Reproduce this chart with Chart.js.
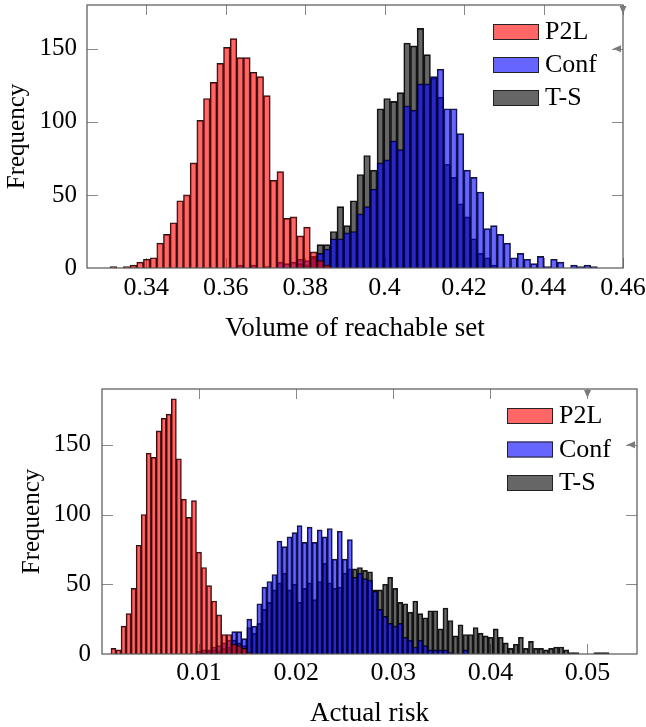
<!DOCTYPE html>
<html lang="en">
<head>
<meta charset="UTF-8">
<title>Volume and risk histograms</title>
<script src="https://cdn.jsdelivr.net/npm/chart.js@4.4.1/dist/chart.umd.min.js"></script>
<style>
    body {
        margin: 0;
        background: #ffffff;
        width: 646px;
        height: 727px;
        overflow: hidden;
        position: relative;
    }
    .box {
        position: absolute;
        left: 0;
        width: 646px;
    }
    #topBox { top: 0; height: 345px; }
    #bottomBox { top: 345px; height: 382px; }
</style>
</head>
<body>
<div class="box" id="topBox"><canvas id="volChart" width="646" height="345"></canvas></div>
<div class="box" id="bottomBox"><canvas id="riskChart" width="646" height="382"></canvas></div>

<script>
    const seriesNames = ['P2L', 'Conf', 'T-S'];

    // top histogram: volume of reachable set (bin start, bin width, counts per bin)
    const volBinStart = 0.3309;
    const volBinWidth = 0.00168;
    const volP2L = [1, 0, 1, 2, 4, 6, 7, 17, 23, 31, 46, 50, 72, 101, 116, 127, 140, 151, 157, 144,
        144, 134, 131, 118, 60, 66, 34, 35, 22, 28, 11, 5, 2, 0, 0, 0, 0, 0, 0, 0,
        0, 0, 0, 0, 0, 0, 0, 0, 0, 0, 0, 0, 0, 0, 0, 0, 0, 0, 0, 0,
        0, 0, 0, 0, 0, 0, 0, 0, 0, 0, 0, 0, 0];
    const volConf = [0, 0, 0, 0, 0, 0, 0, 0, 0, 0, 0, 0, 0, 0, 0, 0, 0, 0, 0, 2,
        0, 2, 0, 1, 0, 4, 3, 4, 6, 5, 7, 10, 13, 20, 20, 24, 25, 37, 42, 54,
        72, 74, 87, 81, 111, 108, 126, 126, 131, 136, 109, 109, 92, 67, 62, 52, 27, 29, 23, 17,
        7, 10, 6, 3, 8, 1, 6, 4, 0, 2, 1, 2, 1];
    const volTS = [0, 0, 0, 0, 0, 0, 0, 0, 0, 0, 0, 0, 0, 0, 0, 0, 0, 0, 0, 0,
        0, 0, 0, 0, 0, 0, 0, 0, 3, 2, 8, 16, 16, 25, 42, 29, 46, 64, 77, 67,
        109, 116, 114, 120, 154, 152, 164, 146, 130, 117, 71, 62, 44, 35, 20, 10, 7, 2, 0, 0,
        0, 0, 0, 0, 0, 0, 0, 0, 0, 0, 0, 0, 0];
    const volXTicks = [0.34, 0.36, 0.38, 0.4, 0.42, 0.44, 0.46];

    // bottom histogram: actual risk
    const riskBinStart = 0.000925;
    const riskBinWidth = 0.000518;
    const riskP2L = [4, 3, 20, 29, 47, 78, 100, 144, 141, 160, 169, 172, 183, 140, 111, 98, 110, 73, 62, 49,
        38, 28, 14, 14, 7, 6, 4, 1, 0, 0, 0, 0, 0, 0, 0, 0, 0, 0, 0, 0,
        0, 0, 0, 0, 0, 0, 0, 0, 0, 0, 0, 0, 0, 0, 0, 0, 0, 0, 0, 0,
        0, 0, 0, 0, 0, 0, 0, 0, 0, 0, 0, 0, 0, 0, 0, 0, 0, 0, 0, 0,
        0, 0, 0, 0, 0, 0, 0, 0, 0, 0, 0, 0, 0, 0, 0, 0, 0, 0, 0];
    const riskConf = [0, 0, 0, 0, 0, 0, 0, 0, 0, 0, 0, 0, 0, 0, 0, 0, 0, 2, 3, 3,
        5, 6, 8, 10, 16, 16, 11, 25, 20, 36, 48, 52, 57, 81, 77, 84, 87, 92, 80, 91,
        80, 89, 84, 90, 68, 88, 68, 82, 55, 58, 54, 53, 45, 32, 27, 22, 20, 22, 12, 10,
        5, 10, 6, 3, 3, 3, 3, 1, 0, 0, 3, 0, 0, 0, 0, 0, 0, 0, 0, 0,
        0, 0, 0, 0, 0, 0, 0, 0, 0, 0, 0, 0, 0, 0, 0, 0, 0, 0, 0];
    const riskTS = [0, 0, 0, 0, 0, 0, 0, 0, 0, 0, 0, 0, 0, 0, 0, 0, 0, 0, 1, 2,
        3, 2, 4, 5, 10, 8, 6, 19, 15, 22, 32, 37, 46, 51, 58, 46, 50, 37, 47, 51,
        39, 52, 65, 51, 47, 48, 58, 61, 61, 62, 60, 59, 46, 46, 50, 55, 47, 37, 36, 30,
        38, 29, 26, 31, 31, 18, 33, 24, 13, 21, 14, 14, 19, 15, 13, 12, 18, 12, 8, 4,
        7, 12, 4, 9, 4, 4, 3, 4, 5, 5, 3, 1, 1, 0, 0, 0, 1, 1, 1];
    const riskXTicks = [0.01, 0.02, 0.03, 0.04, 0.05];

    const yTicks = [0, 50, 100, 150];

    const fills = ['rgba(255, 0, 0, 0.6)', 'rgba(0, 0, 255, 0.6)', 'rgba(0, 0, 0, 0.6)'];
    const serif = '"Liberation Serif", "Times New Roman", serif';
    Chart.defaults.font.family = serif;
    Chart.defaults.color = '#000000';

    function binPoints(start, width, counts) {
        return counts.map((c, i) => ({ x: start + (i + 0.5) * width, y: c }));
    }

    // pgfplots style inner ticks + frame
    const frameAndTicks = {
        id: 'frameAndTicks',
        beforeDatasetsDraw(chart) {
            const { ctx, chartArea: a, scales } = chart;
            ctx.save();
            ctx.strokeStyle = '#8a8a8a';
            ctx.lineWidth = 1;
            ctx.beginPath();
            scales.x.ticks.forEach(t => {
                const px = Math.round(scales.x.getPixelForValue(t.value)) + 0.5;
                ctx.moveTo(px, a.top);
                ctx.lineTo(px, a.top + 10);
                ctx.moveTo(px, a.bottom);
                ctx.lineTo(px, a.bottom - 10);
            });
            scales.y.ticks.forEach(t => {
                if (t.value === 0) return;
                const py = Math.round(scales.y.getPixelForValue(t.value)) + 0.5;
                ctx.moveTo(a.left, py);
                ctx.lineTo(a.left + 11, py);
                ctx.moveTo(a.right, py);
                ctx.lineTo(a.right - 11, py);
            });
            ctx.stroke();
            ctx.restore();
        },
        afterDatasetsDraw(chart) {
            const { ctx, chartArea: a, scales } = chart;
            ctx.save();
            ctx.strokeStyle = '#555555';
            ctx.lineWidth = 1.2;
            ctx.strokeRect(a.left, a.top, a.right - a.left, a.bottom - a.top);

            // little arrow heads on the last top tick and last right tick
            const xs = scales.x.ticks, ys = scales.y.ticks;
            const px = scales.x.getPixelForValue(xs[xs.length - 1].value);
            const py = scales.y.getPixelForValue(ys[ys.length - 1].value);
            ctx.fillStyle = '#7a7a7a';
            ctx.beginPath();
            ctx.moveTo(px - 3.5, a.top + 1);
            ctx.lineTo(px + 3.5, a.top + 1);
            ctx.lineTo(px, a.top + 9);
            ctx.closePath();
            ctx.fill();
            ctx.beginPath();
            ctx.moveTo(a.right - 10, py);
            ctx.lineTo(a.right - 2, py - 3.5);
            ctx.lineTo(a.right - 2, py + 3.5);
            ctx.closePath();
            ctx.fill();
            ctx.restore();
        }
    };

    // legend drawn inside the plot, top right
    const boxLegend = {
        id: 'boxLegend',
        afterDraw(chart, args, opts) {
            const { ctx, chartArea: a } = chart;
            ctx.save();
            chart.data.datasets.forEach((ds, k) => {
                const x = a.right - opts.right;
                const y = a.top + opts.top + k * opts.gap;
                ctx.fillStyle = ds.backgroundColor;
                ctx.fillRect(x, y, 46, 16);
                ctx.strokeStyle = '#222222';
                ctx.lineWidth = 1;
                ctx.strokeRect(x + 0.5, y + 0.5, 45, 15);
                ctx.fillStyle = '#000000';
                ctx.font = '26px ' + serif;
                ctx.textBaseline = 'middle';
                ctx.fillText(ds.label, x + 52, y + 8.5);
            });
            ctx.restore();
        }
    };

    function makeHistogram(id, s) {
        const datasets = s.series.map((counts, k) => ({
            label: seriesNames[k],
            data: binPoints(s.binStart, s.binWidth, counts),
            backgroundColor: fills[k],
            borderColor: 'rgba(0, 0, 0, 0.9)',
            borderWidth: 1,
            barPercentage: 1,
            categoryPercentage: 1,
            grouped: false
        }));

        return new Chart(document.getElementById(id), {
            type: 'bar',
            data: { datasets: datasets },
            options: {
                responsive: false,
                animation: false,
                events: [],
                layout: { padding: s.padding },
                plugins: {
                    legend: { display: false },
                    tooltip: { enabled: false },
                    boxLegend: s.legend
                },
                scales: {
                    x: {
                        type: 'linear',
                        min: s.xMin,
                        max: s.xMax,
                        offset: false,
                        grid: { display: false, drawTicks: false, offset: false },
                        border: { display: false },
                        afterBuildTicks: scale => { scale.ticks = s.xTicks.map(v => ({ value: v })); },
                        afterFit: scale => {
                            scale.height = s.xHeight;
                            scale.paddingLeft = 0;
                            scale.paddingRight = 0;
                        },
                        ticks: {
                            padding: s.xTickPad,
                            autoSkip: false,
                            maxRotation: 0,
                            font: { size: 26 },
                            color: '#000000',
                            callback: v => String(v)
                        },
                        title: {
                            display: true,
                            text: s.xTitle,
                            font: { size: 27 },
                            color: '#000000',
                            padding: { top: 0, bottom: s.xTitlePad }
                        }
                    },
                    y: {
                        type: 'linear',
                        min: 0,
                        max: s.yMax,
                        grid: { display: false, drawTicks: false },
                        border: { display: false },
                        afterBuildTicks: scale => { scale.ticks = yTicks.map(v => ({ value: v })); },
                        afterFit: scale => {
                            scale.width = s.yWidth;
                            scale.paddingTop = 0;
                            scale.paddingBottom = 0;
                        },
                        ticks: {
                            padding: s.yTickPad,
                            font: { size: 25 },
                            color: '#000000',
                            callback: v => String(v)
                        },
                        title: {
                            display: true,
                            text: 'Frequency',
                            font: { size: 25 },
                            color: '#000000',
                            padding: { top: s.yTitlePad, bottom: 0 }
                        }
                    }
                }
            },
            plugins: [frameAndTicks, boxLegend]
        });
    }

    makeHistogram('volChart', {
        series: [volP2L, volConf, volTS],
        binStart: volBinStart,
        binWidth: volBinWidth,
        xMin: 0.3251,
        xMax: 0.46,
        yMax: 180,
        xTicks: volXTicks,
        xTitle: 'Volume of reachable set',
        padding: { top: 5, right: 23, left: 0, bottom: 0 },
        xHeight: 77,
        yWidth: 87,
        xTickPad: 5,
        yTickPad: 10,
        xTitlePad: 0,
        yTitlePad: 2,
        legend: { right: 130, top: 19, gap: 33 }
    });

    makeHistogram('riskChart', {
        series: [riskP2L, riskConf, riskTS],
        binStart: riskBinStart,
        binWidth: riskBinWidth,
        xMin: 0,
        xMax: 0.0551,
        yMax: 190,
        xTicks: riskXTicks,
        xTitle: 'Actual risk',
        padding: { top: 44, right: 9, left: 0, bottom: 0 },
        xHeight: 73,
        yWidth: 102,
        xTickPad: 4,
        yTickPad: 11,
        xTitlePad: -3,
        yTitlePad: 17,
        legend: { right: 130, top: 19, gap: 33.5 }
    });
</script>
</body>
</html>
